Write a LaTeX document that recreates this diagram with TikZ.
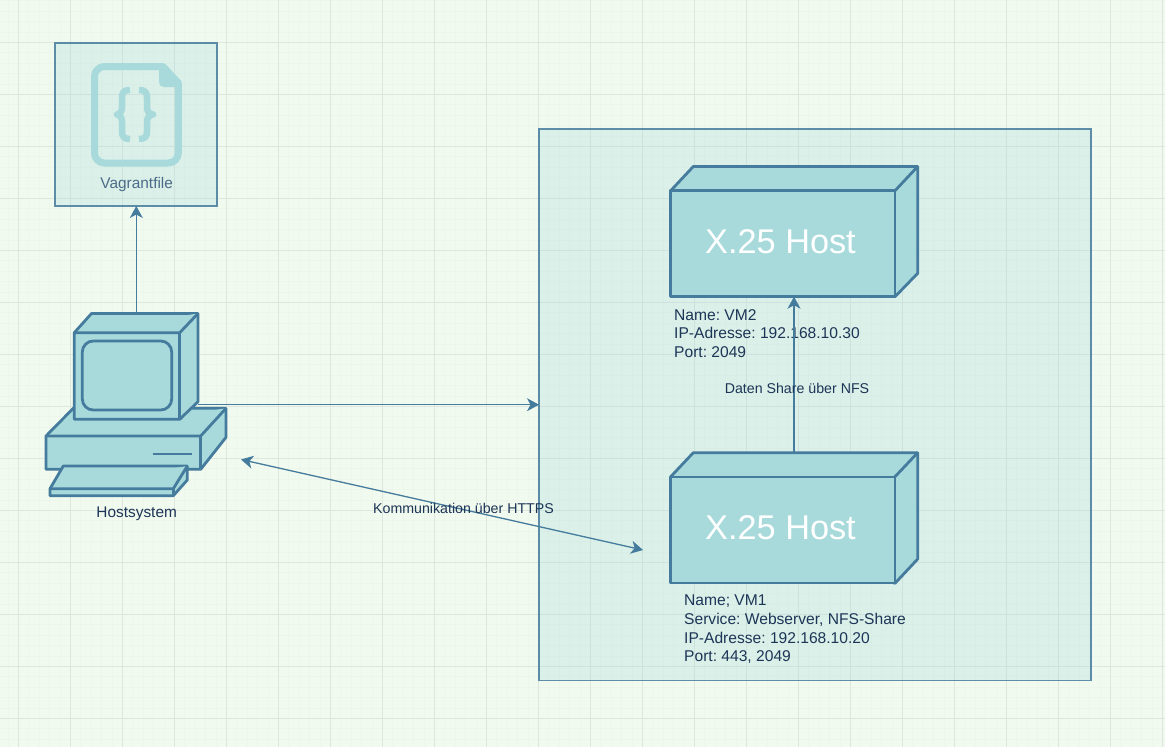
\documentclass[tikz,border=0pt]{standalone}
\usepackage{fontspec}
\setmainfont{Liberation Sans}
\usetikzlibrary{arrows.meta}
\definecolor{gridbg}{HTML}{F1FAEE}
\definecolor{gridmajor}{HTML}{DEE6DD}
\definecolor{gridminor}{HTML}{EDF6EA}
\definecolor{boxfill}{HTML}{A8DADC}
\definecolor{boxline}{HTML}{457B9D}
\definecolor{boxtext}{HTML}{1D3557}
\tikzset{
  panel/.style={draw=boxline, draw opacity=.85, fill=boxfill, fill opacity=.3, line width=1.3, minimum width=#1, inner sep=0, outer sep=0},
  shape3d/.style={draw=boxline, fill=boxfill, line width=2.8, line join=round},
  hostfront/.style={shape3d, minimum width=224.3, minimum height=106, inner sep=0, outer sep=0},
  hosttitle/.style={text=white, font=\fontsize{34.3}{38}\selectfont},
  info/.style={text=boxtext, align=left, anchor=north west, inner sep=0, font=\frenchspacing\fontsize{15.6}{18.6}\selectfont},
  caption/.style={text=boxtext, font=\fontsize{15.4}{18}\selectfont},
  edgetext/.style={text=boxtext, font=\fontsize{14.2}{16}\selectfont},
  link/.style={draw=boxline, line width=1.3, -{Stealth[length=12, width=13, inset=3.5]}}
}
\begin{document}
\begin{tikzpicture}[x=1pt, y=-1pt]
    \useasboundingbox (0, 0) rectangle (1165, 747);
    \fill[gridbg] (0, 0) rectangle (1165, 747);
    \foreach \k in {-1,...,111} \draw[gridminor, line width=1] ({18.5+10.4*\k}, 0) -- ({18.5+10.4*\k}, 747);
    \foreach \k in {0,...,71} \draw[gridminor, line width=1] (0, {0.9+10.4*\k}) -- (1165, {0.9+10.4*\k});
    \foreach \k in {0,...,22} \draw[gridmajor, line width=1] ({18.5+52*\k}, 0) -- ({18.5+52*\k}, 747);
    \foreach \k in {0,...,14} \draw[gridmajor, line width=1] (0, {-9.5+52*\k}) -- (1165, {-9.5+52*\k});

    \node[panel=162, minimum height=163] (vagrant) at (136, 124.5) {};
    \node[panel=552, minimum height=551.5] (network) at (815, 404.7) {};

    \draw[boxfill, line width=7, line join=round] (163, 66.5) -- (178.3, 83) -- (178.3, 153) arc[start angle=0, end angle=90, radius=10] -- (104.5, 163) arc[start angle=90, end angle=180, radius=10] -- (94.5, 76.5) arc[start angle=180, end angle=270, radius=10] -- cycle;
    \fill[boxfill] (159, 66) -- (163, 66) -- (179, 83) -- (179, 87) -- (164, 87) .. controls (161, 87) and (159, 85) .. (159, 82) -- cycle;
    \draw[boxfill, line width=6.5, line join=round] (130, 90) .. controls (124, 90) and (122, 92) .. (122, 98) -- (122, 107) .. controls (122, 111) and (120.5, 114) .. (117, 114.5) .. controls (120.5, 115) and (122, 118) .. (122, 122) -- (122, 131) .. controls (122, 137) and (124, 139) .. (130, 139);
    \draw[boxfill, line width=6.5, line join=round] (139, 90) .. controls (145, 90) and (147, 92) .. (147, 98) -- (147, 107) .. controls (147, 111) and (149, 114) .. (153, 114.5) .. controls (149, 115) and (147, 118) .. (147, 122) -- (147, 131) .. controls (147, 137) and (145, 139) .. (139, 139);
    \node[text=boxtext!60!boxline!85, font=\fontsize{15.4}{18}\selectfont, inner sep=0] (vagrantlabel) at (136.7, 185) {Vagrantfile};

    \draw[shape3d] (46, 436) -- (73.3, 408.3) -- (226, 408.3) -- (226, 437.3) -- (200.7, 469.3) -- (46, 469.3) -- cycle;
    \draw[shape3d] (46, 436) -- (200.7, 436) -- (226, 408.3);
    \draw[shape3d] (200.7, 436) -- (200.7, 469.3);
    \draw[boxline, line width=2.8] (152.7, 454) -- (192, 454);
    \draw[shape3d] (63.3, 466) -- (187.3, 466) -- (187.3, 480) -- (173.3, 495.7) -- (50, 495.7) -- (50, 488.7) -- cycle;
    \draw[shape3d] (50, 488.7) -- (173.3, 488.7) -- (187.3, 466);
    \draw[shape3d] (173.3, 488.7) -- (173.3, 495.7);
    \draw[shape3d] (74.3, 332.7) -- (91.5, 313.5) -- (198, 313.5) -- (198, 401.7) -- (179.7, 419.3) -- (74.3, 419.3) -- cycle;
    \draw[shape3d] (74.3, 332.7) -- (179.7, 332.7) -- (198, 313.5);
    \draw[shape3d] (179.7, 332.7) -- (179.7, 419.3);
    \draw[shape3d, rounded corners=11] (82.3, 341) rectangle (171.7, 410);
    \node[caption, inner sep=0] (hostlabel) at (136.7, 514) {Hostsystem};
    \coordinate (monitortop) at (136.3, 313.5);
    \coordinate (monitorside) at (198, 404.7);
    \coordinate (pcright) at (241, 459.5);
    \coordinate (vmleft) at (643, 550);

    \draw[shape3d] (670.7, 190.7) -- (693.3, 166.5) -- (917.7, 166.5) -- (917.7, 273.3) -- (895, 296.7) -- cycle;
    \draw[shape3d] (895, 190.7) -- (917.7, 166.5);
    \node[hostfront] (vmtwo) at (782.85, 243.7) {};
    \node[hosttitle, inner sep=0] (vmtwotitle) at (780.5, 241.5) {X.25 Host};
    \node[info] (vmtwoinfo) at (674, 309) {Name: VM2\\IP-Adresse: 192.168.10.30\\Port: 2049};

    \draw[shape3d] (670.7, 476.7) -- (693.3, 452.7) -- (917.7, 452.7) -- (917.7, 559) -- (895, 583.3) -- cycle;
    \draw[shape3d] (895, 476.7) -- (917.7, 452.7);
    \node[hostfront] (vmone) at (782.85, 530) {};
    \node[hosttitle, inner sep=0] (vmonetitle) at (780.5, 527.5) {X.25 Host};
    \node[info] (vmoneinfo) at (684, 595) {Name; VM1\\Service: Webserver, NFS-Share\\IP-Adresse: 192.168.10.20\\Port: 443, 2049};
    \coordinate (vmonetop) at (794, 452.7);

    \draw[link] (monitortop) -- (vagrant.south -| monitortop);
    \draw[link] (monitorside) -- (network.west);
    \draw[link, {Stealth[length=12, width=13, inset=3.5]}-{Stealth[length=12, width=13, inset=3.5]}] (pcright) -- (vmleft);
    \draw[link] (vmonetop) -- (vmonetop |- vmtwo.south);

    \node[edgetext, inner sep=0] (httpslabel) at (463.5, 508.5) {Kommunikation über HTTPS};
    \node[edgetext, inner sep=0] (nfslabel) at (797, 388.5) {Daten Share über NFS};
\end{tikzpicture}
\end{document}
